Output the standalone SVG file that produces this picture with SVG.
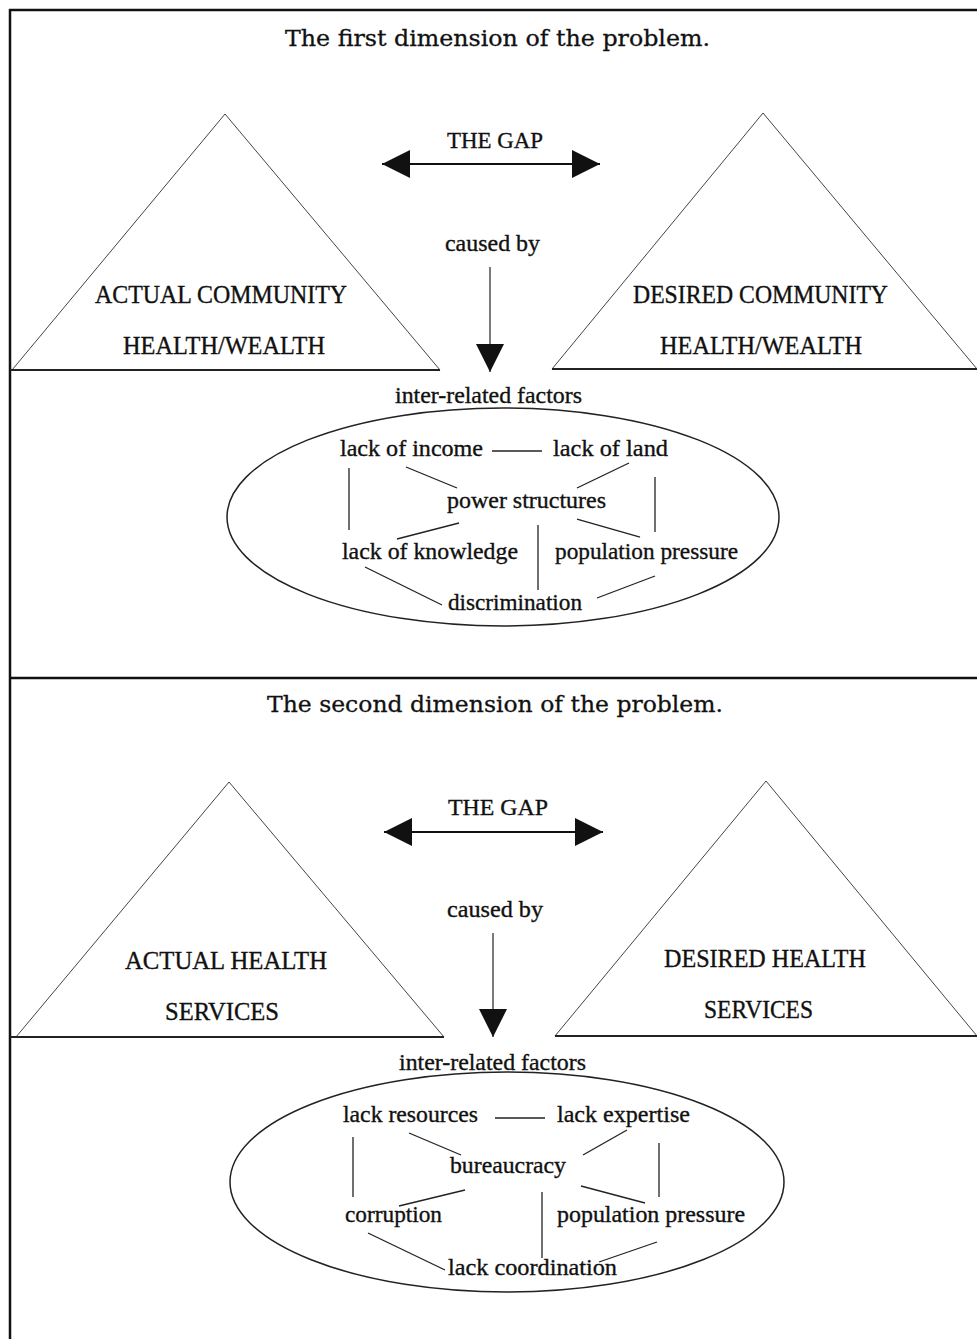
<svg xmlns="http://www.w3.org/2000/svg" width="977" height="1339" viewBox="0 0 977 1339">
<style>
.t{font-family:"Liberation Serif","Times New Roman",serif;font-size:24px;fill:#111;stroke:#111;stroke-width:0.35}
.cap{font-family:"Liberation Serif","Times New Roman",serif;font-size:25px;fill:#111;stroke:#111;stroke-width:0.35}
.title{font-family:"DejaVu Serif","Liberation Serif",serif;font-size:22px;fill:#111;stroke:#111;stroke-width:0.3}
.tri{fill:none;stroke:#444;stroke-width:1}
.base{fill:none;stroke:#222;stroke-width:1.8}
.frame{fill:none;stroke:#111;stroke-width:2.5}
.ell{fill:none;stroke:#222;stroke-width:1.5}
.ln{fill:none;stroke:#222;stroke-width:1.3}
.arr{fill:none;stroke:#111;stroke-width:2}
.thin{fill:none;stroke:#222;stroke-width:1.2}
</style>
<defs>
<marker id="ah" markerUnits="userSpaceOnUse" markerWidth="30" markerHeight="30" refX="28" refY="14" orient="auto-start-reverse" viewBox="0 0 30 30">
<path d="M0,0 L28,14 L0,28 Z" fill="#111"/>
</marker>
</defs>
<rect x="0" y="0" width="977" height="1339" fill="#fff"/>
<g id="frame">
<line class="frame" x1="9" y1="10" x2="977" y2="10"/>
<line class="frame" x1="10" y1="9" x2="10" y2="1339"/>
<line class="frame" x1="10" y1="678" x2="977" y2="678"/>
</g>
<g id="title1"><text class="title" x="285" y="46" textLength="425" lengthAdjust="spacingAndGlyphs">The first dimension of the problem.</text></g>
<g id="actual-community">
<path class="tri" d="M12,370 L225,114 L440,370"/>
<line class="base" x1="10" y1="370" x2="440" y2="370"/>
<text class="cap" x="95" y="303" textLength="252" lengthAdjust="spacingAndGlyphs">ACTUAL COMMUNITY</text>
<text class="cap" x="123" y="354" textLength="202" lengthAdjust="spacingAndGlyphs">HEALTH/WEALTH</text>
</g>
<g id="desired-community">
<path class="tri" d="M552,369 L763,113 L977,369"/>
<line class="base" x1="552" y1="369" x2="977" y2="369"/>
<text class="cap" x="633" y="303" textLength="255" lengthAdjust="spacingAndGlyphs">DESIRED COMMUNITY</text>
<text class="cap" x="660" y="354" textLength="202" lengthAdjust="spacingAndGlyphs">HEALTH/WEALTH</text>
</g>
<g id="gap1-label"><text class="t" x="447" y="148" textLength="96" lengthAdjust="spacingAndGlyphs">THE GAP</text></g>
<g id="caused1-label"><text class="t" x="445" y="251" textLength="95" lengthAdjust="spacingAndGlyphs">caused by</text></g>
<g id="factors1">
<text class="t" x="395" y="403" textLength="187" lengthAdjust="spacingAndGlyphs">inter-related factors</text>
<ellipse class="ell" cx="503" cy="517" rx="276" ry="109"/>
</g>
<g id="lack-income"><text class="t" x="340" y="456" textLength="143" lengthAdjust="spacingAndGlyphs">lack of income</text></g>
<g id="lack-land"><text class="t" x="553" y="456" textLength="115" lengthAdjust="spacingAndGlyphs">lack of land</text></g>
<g id="power"><text class="t" x="447" y="508" textLength="159" lengthAdjust="spacingAndGlyphs">power structures</text></g>
<g id="lack-knowledge"><text class="t" x="342" y="559" textLength="176" lengthAdjust="spacingAndGlyphs">lack of knowledge</text></g>
<g id="pop-pressure1"><text class="t" x="555" y="559" textLength="183" lengthAdjust="spacingAndGlyphs">population pressure</text></g>
<g id="discrimination"><text class="t" x="448" y="610" textLength="134" lengthAdjust="spacingAndGlyphs">discrimination</text></g>

<g id="title2"><text class="title" x="267" y="712" textLength="456" lengthAdjust="spacingAndGlyphs">The second dimension of the problem.</text></g>
<g id="actual-services">
<path class="tri" d="M16,1037 L229,782 L444,1037"/>
<line class="base" x1="10" y1="1037" x2="444" y2="1037"/>
<text class="cap" x="125" y="969" textLength="202" lengthAdjust="spacingAndGlyphs">ACTUAL HEALTH</text>
<text class="cap" x="165" y="1020" textLength="114" lengthAdjust="spacingAndGlyphs">SERVICES</text>
</g>
<g id="desired-services">
<path class="tri" d="M555,1036 L766,781 L977,1036"/>
<line class="base" x1="555" y1="1036" x2="977" y2="1036"/>
<text class="cap" x="664" y="967" textLength="202" lengthAdjust="spacingAndGlyphs">DESIRED HEALTH</text>
<text class="cap" x="704" y="1018" textLength="109" lengthAdjust="spacingAndGlyphs">SERVICES</text>
</g>
<g id="gap2-label"><text class="t" x="448" y="815" textLength="100" lengthAdjust="spacingAndGlyphs">THE GAP</text></g>
<g id="caused2-label"><text class="t" x="447" y="917" textLength="96" lengthAdjust="spacingAndGlyphs">caused by</text></g>
<g id="factors2">
<text class="t" x="399" y="1070" textLength="187" lengthAdjust="spacingAndGlyphs">inter-related factors</text>
<ellipse class="ell" cx="507" cy="1182" rx="277" ry="110"/>
</g>
<g id="lack-resources"><text class="t" x="343" y="1122" textLength="135" lengthAdjust="spacingAndGlyphs">lack resources</text></g>
<g id="lack-expertise"><text class="t" x="557" y="1122" textLength="133" lengthAdjust="spacingAndGlyphs">lack expertise</text></g>
<g id="bureaucracy"><text class="t" x="450" y="1173" textLength="116" lengthAdjust="spacingAndGlyphs">bureaucracy</text></g>
<g id="corruption"><text class="t" x="345" y="1222" textLength="97" lengthAdjust="spacingAndGlyphs">corruption</text></g>
<g id="pop-pressure2"><text class="t" x="557" y="1222" textLength="188" lengthAdjust="spacingAndGlyphs">population pressure</text></g>
<g id="lack-coordination"><text class="t" x="448" y="1275" textLength="169" lengthAdjust="spacingAndGlyphs">lack coordination</text></g>

<g id="connectors">
<line class="arr" x1="382" y1="164" x2="600" y2="164" marker-start="url(#ah)" marker-end="url(#ah)"/>
<line class="thin" x1="490" y1="267" x2="490" y2="372" marker-end="url(#ah)"/>
<line class="ln" x1="492" y1="451" x2="542" y2="451"/>
<line class="ln" x1="349" y1="468" x2="349" y2="530"/>
<line class="ln" x1="655" y1="477" x2="655" y2="532"/>
<line class="ln" x1="406" y1="467" x2="457" y2="488"/>
<line class="ln" x1="629" y1="463" x2="577" y2="488"/>
<line class="ln" x1="459" y1="523" x2="397" y2="539"/>
<line class="ln" x1="577" y1="519" x2="640" y2="537"/>
<line class="ln" x1="538" y1="525" x2="538" y2="590"/>
<line class="ln" x1="365" y1="567" x2="442" y2="605"/>
<line class="ln" x1="655" y1="576" x2="597" y2="598"/>

<line class="arr" x1="384" y1="832" x2="603" y2="832" marker-start="url(#ah)" marker-end="url(#ah)"/>
<line class="thin" x1="493" y1="933" x2="493" y2="1037" marker-end="url(#ah)"/>
<line class="ln" x1="495" y1="1118" x2="545" y2="1118"/>
<line class="ln" x1="353" y1="1137" x2="353" y2="1197"/>
<line class="ln" x1="659" y1="1143" x2="659" y2="1197"/>
<line class="ln" x1="409" y1="1133" x2="461" y2="1155"/>
<line class="ln" x1="627" y1="1130" x2="583" y2="1155"/>
<line class="ln" x1="465" y1="1190" x2="399" y2="1206"/>
<line class="ln" x1="581" y1="1186" x2="645" y2="1203"/>
<line class="ln" x1="542" y1="1192" x2="542" y2="1258"/>
<line class="ln" x1="368" y1="1233" x2="445" y2="1270"/>
<line class="ln" x1="657" y1="1242" x2="599" y2="1262"/>
</g>
</svg>
